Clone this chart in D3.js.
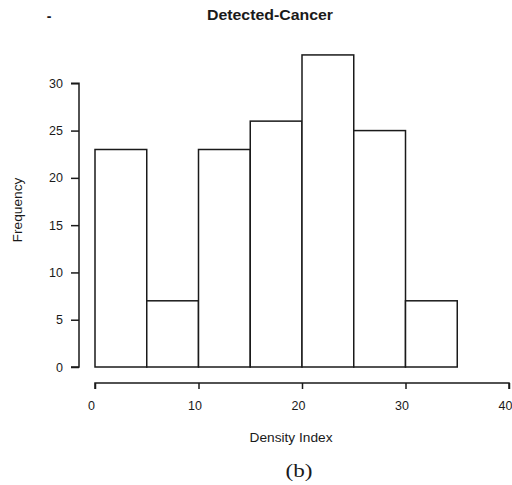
<!DOCTYPE html>
<html><head><meta charset="utf-8">
<script src="https://cdn.jsdelivr.net/npm/d3@7"></script>
<style>body{margin:0;background:#fff}svg{display:block}</style>
</head><body>
<script>
const binStarts = [0, 5, 10, 15, 20, 25, 30];
const binWidth = 5;
const frequencies = [23, 7, 23, 26, 33, 25, 7];
const xTicks = [0, 10, 20, 30, 40];
const yTicks = [0, 5, 10, 15, 20, 25, 30];
const title = "Detected-Cancer";
const xLabel = "Density Index";
const yLabel = "Frequency";
const caption = "(b)";

const W = 512, H = 485;
const ink = "#1a1a1a";
const svg = d3.select("body").append("svg").attr("width", W).attr("height", H);
const x = d3.scaleLinear().domain([0, 40]).range([95, 509]);
const y = d3.scaleLinear().domain([0, 30]).range([367, 83.3]);

// bars
svg.append("g").selectAll("rect").data(binStarts).join("rect")
  .attr("x", d => x(d)).attr("width", d => x(d + binWidth) - x(d))
  .attr("y", (d, i) => y(frequencies[i])).attr("height", (d, i) => y(0) - y(frequencies[i]))
  .attr("fill", "#fff").attr("stroke", ink).attr("stroke-width", 1.5);

// y axis
const yAxis = svg.append("g").attr("transform", "translate(79,0)")
  .call(d3.axisLeft(y).tickValues(yTicks).tickSize(8).tickPadding(8));
yAxis.select(".domain").attr("d", `M-8,${y(30)}H0V${y(0)}H-8`).attr("stroke", ink).attr("stroke-width", 1.5);
yAxis.selectAll(".tick line").attr("stroke", ink).attr("stroke-width", 1.5);
yAxis.selectAll(".tick text").attr("font-family", "Liberation Sans, Arial, sans-serif")
  .attr("font-size", 12.5).attr("fill", ink);

// x axis
const xAxis = svg.append("g").attr("transform", "translate(0,383)")
  .call(d3.axisBottom(x).tickValues(xTicks).tickSize(6).tickPadding(12));
xAxis.select(".domain").attr("d", `M${x(0)},6V0H${x(40)}V6`).attr("stroke", ink).attr("stroke-width", 1.5);
xAxis.selectAll(".tick line").attr("stroke", ink).attr("stroke-width", 1.5);
xAxis.selectAll(".tick text").attr("font-family", "Liberation Sans, Arial, sans-serif")
  .attr("font-size", 12.5).attr("fill", ink).attr("dx", -4);

// title
svg.append("text").attr("x", 270).attr("y", 20).attr("text-anchor", "middle")
  .attr("font-family", "Liberation Sans, Arial, sans-serif").attr("font-weight", "bold")
  .attr("font-size", 14).attr("fill", ink)
  .attr("textLength", 126).attr("lengthAdjust", "spacingAndGlyphs").text(title);
svg.append("text").attr("x", 49).attr("y", 21).attr("text-anchor", "middle")
  .attr("font-family", "Liberation Sans, Arial, sans-serif").attr("font-weight", "bold")
  .attr("font-size", 14).attr("fill", ink).text("-");

// axis labels
svg.append("text").attr("x", 291).attr("y", 442).attr("text-anchor", "middle")
  .attr("font-family", "Liberation Sans, Arial, sans-serif").attr("font-size", 12).attr("fill", ink)
  .attr("textLength", 83).attr("lengthAdjust", "spacingAndGlyphs").text(xLabel);
svg.append("text").attr("transform", "translate(22,210) rotate(-90)").attr("text-anchor", "middle")
  .attr("font-family", "Liberation Sans, Arial, sans-serif").attr("font-size", 12).attr("fill", ink)
  .attr("textLength", 65).attr("lengthAdjust", "spacingAndGlyphs").text(yLabel);

// caption
svg.append("text").attr("x", 299).attr("y", 477).attr("text-anchor", "middle")
  .attr("font-family", "Liberation Serif, Times New Roman, serif").attr("font-size", 19).attr("fill", ink)
  .attr("textLength", 27).attr("lengthAdjust", "spacingAndGlyphs").text(caption);
</script>
</body></html>
